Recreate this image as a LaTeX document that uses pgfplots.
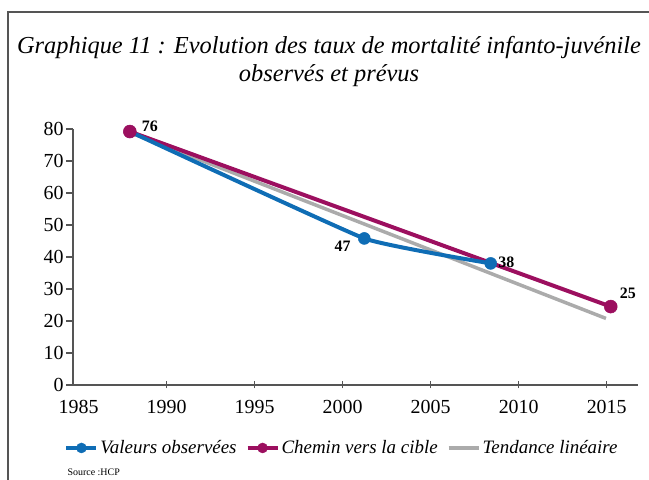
\documentclass[border=0pt]{standalone}
\usepackage{fontspec}
\setmainfont{Liberation Serif}
\usepackage{pgfplots}
\pgfplotsset{compat=1.18}
\definecolor{obsblue}{HTML}{0F6DB5}
\definecolor{cibpurple}{HTML}{9C0F5F}
\definecolor{trendgray}{HTML}{ABABAB}
\definecolor{framegray}{HTML}{555555}
\begin{document}
\begin{tikzpicture}[x=1bp,y=1bp]
\path[use as bounding box] (0,0) rectangle (649,480);
\draw[line width=1.4bp, framegray] (8,0) -- (8,468) -- (649,468);
\node[font=\itshape\fontsize{24.5}{28}\selectfont, anchor=base] at (329,426) {Graphique 11 : Evolution des taux de mortalité infanto-juvénile};
\node[font=\itshape\fontsize{24.5}{28}\selectfont, anchor=base] at (329,398) {observés et prévus};
\node[font=\fontsize{10}{11}\selectfont, anchor=base west] at (64,4) {Source :HCP};
\begin{axis}[
  at={(73bp,95bp)}, anchor=south west,
  scale only axis, width=565bp, height=256bp,
  xmin=1984.68, xmax=2016.78, ymin=0, ymax=80,
  clip=false,
  axis lines*=left,
  axis line style={framegray, line width=1.2bp},
  xtick={1990,1995,...,2015},
  extra x ticks={1985},
  extra x tick style={tick style={draw=none}},
  ytick={0,10,...,80},
  tick align=outside,
  major tick length=7bp,
  tick style={framegray, line width=1.2bp},
  x tick style={yshift=3.5bp},
  xticklabel style={yshift=-5bp},
  yticklabel style={xshift=1bp},
  /pgf/number format/assume math mode=true,
  /pgf/number format/set thousands separator={},
  ticklabel style={font=\fontsize{20}{24}\selectfont},
  legend columns=3,
  legend style={at={(0.476,-0.246)}, anchor=center, draw=none, fill=none,
    font=\itshape\fontsize{19}{22}\selectfont,
    /tikz/every even column/.append style={column sep=7bp}},
  legend image code/.code={\draw[mark repeat=2,mark phase=2,#1] plot coordinates {(0bp,0bp) (15bp,0bp) (30bp,0bp)};},
]
\addlegendimage{obsblue, line width=4bp, mark=*, mark size=5bp, mark options={line width=0.5bp}}
\addlegendentry{Valeurs observées}
\addlegendimage{cibpurple, line width=4bp, mark=*, mark size=5bp, mark options={line width=0.5bp}}
\addlegendentry{Chemin vers la cible}
\addlegendimage{trendgray, line width=4bp}
\addlegendentry{Tendance linéaire}
% tendance linéaire
\addplot[trendgray, line width=3.5bp, forget plot] coordinates {(1988.1,78.5) (2014.96,20.8)};
% chemin vers la cible (ligne)
\addplot[cibpurple, line width=4bp, forget plot] coordinates {(1987.91,79.2) (2015.23,24.5)};
% valeurs observées
\addplot[obsblue, line width=4bp, smooth, tension=0.2, mark=*, mark size=6bp,
  mark options={line width=0.5bp}, forget plot]
  coordinates {(1987.91,79.2) (2001.23,45.8) (2008.41,38.0)};
% chemin vers la cible (points)
\addplot[cibpurple, only marks, mark=*, mark size=6.5bp, mark options={line width=0.5bp}, forget plot]
  coordinates {(1987.91,79.2) (2015.23,24.5)};
\node[font=\bfseries\fontsize{16}{18}\selectfont] at (axis cs:1989.05,80.9) {76};
\node[font=\bfseries\fontsize{16}{18}\selectfont] at (axis cs:2000.0,43.2) {47};
\node[font=\bfseries\fontsize{16}{18}\selectfont] at (axis cs:2009.3,38.5) {38};
\node[font=\bfseries\fontsize{16}{18}\selectfont] at (axis cs:2016.2,28.75) {25};
\end{axis}
\end{tikzpicture}
\end{document}
